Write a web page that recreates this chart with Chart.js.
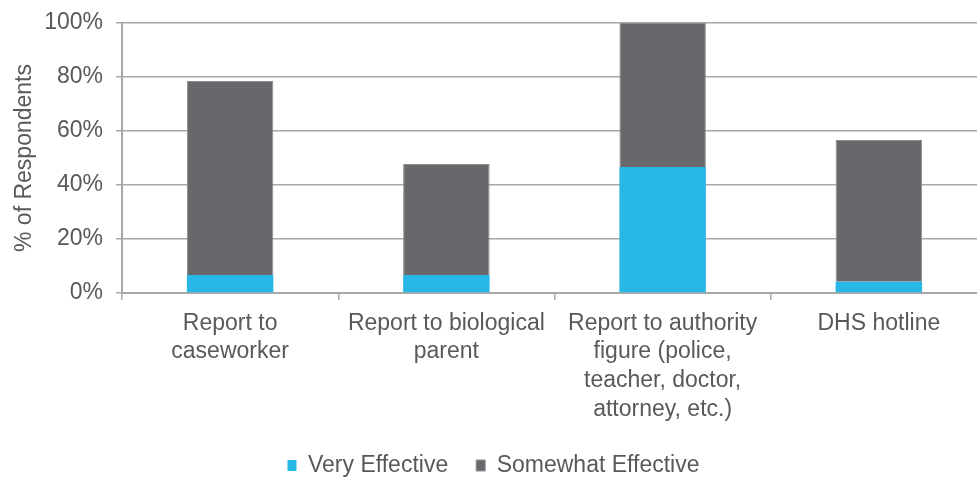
<!DOCTYPE html>
<html>
<head>
<meta charset="utf-8">
<script src="https://cdn.jsdelivr.net/npm/chart.js@4.4.1/dist/chart.umd.min.js"></script>
<style>
  html, body { margin: 0; padding: 0; background: #fff; overflow: hidden; }
  #wrap { position: relative; width: 990px; height: 477px; }
</style>
</head>
<body>
<div id="wrap"><canvas id="graficoBarra"></canvas></div>
<script>
const categorias = [
    ['Report to', 'caseworker'],
    ['Report to biological', 'parent'],
    ['Report to authority', 'figure (police,', 'teacher, doctor,', 'attorney, etc.)'],
    ['DHS hotline']
];
const muitoEfetivo = [6.7, 6.7, 46.7, 4.2];
const algoEfetivo = [71.8, 41.1, 53.3, 52.5];
const yTicks = [0, 20, 40, 60, 80, 100];

const corTexto = '#595959';
const corGrade = '#A8A8A8';
const fonte = 'Helvetica Neue, Liberation Sans, Arial, sans-serif';

const data = {
    labels: categorias,
    datasets: [{
        label: 'Very Effective',
        data: muitoEfetivo,
        backgroundColor: '#29B8E5',
        borderWidth: 0,
    }, {
        label: 'Somewhat Effective',
        data: algoEfetivo,
        backgroundColor: '#68676C',
        borderColor: '#8E8E92',
        borderWidth: 1,
    }]
};

const config = {
    type: 'bar',
    data: data,
    options: {
        responsive: true,
        maintainAspectRatio: false,
        animation: false,
        layout: { padding: { top: 23, right: 3, bottom: -10, left: 0 } },
        datasets: { bar: { categoryPercentage: 1.0, barPercentage: 0.4 } },
        scales: {
            x: {
                stacked: true,
                afterFit: (s) => { s.height = 133; },
                grid: { drawOnChartArea: false, color: corGrade, lineWidth: 1.5, tickLength: 7, offset: true },
                border: { color: corGrade, width: 2 },
                ticks: { color: corTexto, font: { family: fonte, size: 23, lineHeight: 1.25 }, padding: 9, maxRotation: 0, autoSkip: false }
            },
            y: {
                stacked: true,
                min: 0,
                max: 100,
                afterFit: (s) => { s.width = 122; s.paddingTop = 8; s.paddingBottom = 8; },
                afterBuildTicks: (s) => { s.ticks = yTicks.map(v => ({ value: v })); },
                grid: { color: corGrade, lineWidth: 1.5, tickLength: 6 },
                border: { color: corGrade, width: 2 },
                ticks: { color: corTexto, font: { family: fonte, size: 23 }, padding: 13, callback: (v) => v + '%' },
                title: { display: true, text: '% of Respondents', color: corTexto, font: { family: fonte, size: 23 }, padding: { top: 11, bottom: 0 } }
            }
        },
        plugins: {
            legend: {
                position: 'bottom',
                labels: { color: corTexto, font: { family: fonte, size: 23 }, boxWidth: 9, boxHeight: 11, padding: 28 }
            },
            tooltip: { enabled: false }
        }
    }
};

const graficoBarra = new Chart(document.getElementById('graficoBarra'), config);
</script>
</body>
</html>
